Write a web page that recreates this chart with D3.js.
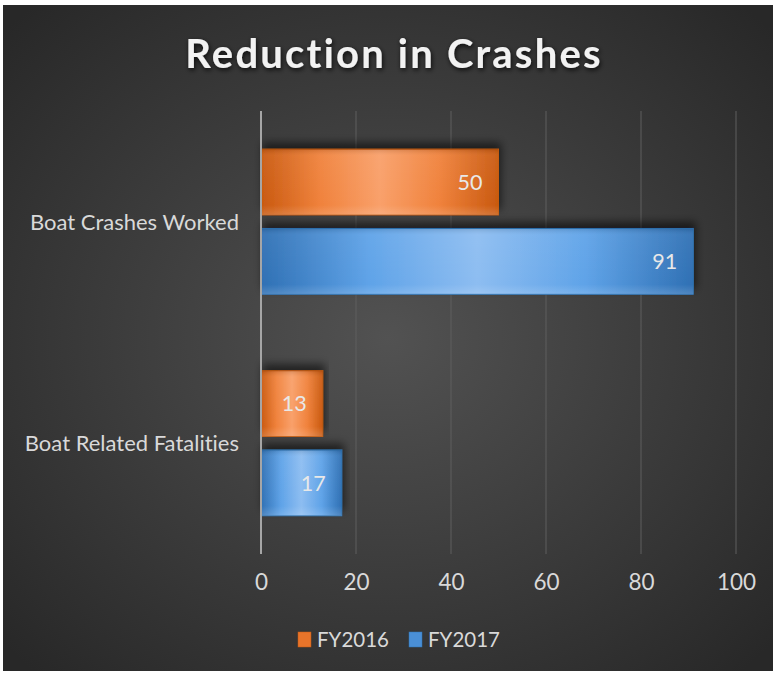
<!DOCTYPE html>
<html>
<head>
<meta charset="utf-8">
<script src="https://cdn.jsdelivr.net/npm/d3@7"></script>
<style>
  body { margin: 0; background: #fff; }
  svg { display: block; }
  text { font-family: Lato, "Open Sans", sans-serif; font-variant-ligatures: none; }
</style>
</head>
<body>
<div id="chart"></div>
<script>
// Data
const categories = ["Boat Crashes Worked", "Boat Related Fatalities"];
const seriesNames = ["FY2016", "FY2017"];
const fy2016 = [50, 13];
const fy2017 = [91, 17];
const tickValues = [0, 20, 40, 60, 80, 100];

// Plot constants
const W = 776, H = 675;
const PLOT = {LEFT: 261, RIGHT: 736, TOP: 111, BOTTOM: 554};

const svg = d3.select("#chart").append("svg")
  .attr("width", W).attr("height", H);

const defs = svg.append("defs");

// background radial gradient
const bg = defs.append("radialGradient").attr("id", "bg")
  .attr("cx", "50%").attr("cy", "50%").attr("r", "68%");
bg.append("stop").attr("offset", "0%").attr("stop-color", "#525252");
bg.append("stop").attr("offset", "100%").attr("stop-color", "#282828");

// bar gradients: light centre, darker ends
function barGradient(id, edge, mid, light) {
  const gr = defs.append("linearGradient").attr("id", id)
    .attr("x1", "0%").attr("x2", "100%").attr("y1", "0%").attr("y2", "0%");
  gr.append("stop").attr("offset", "0%").attr("stop-color", edge);
  gr.append("stop").attr("offset", "25%").attr("stop-color", mid);
  gr.append("stop").attr("offset", "50%").attr("stop-color", light);
  gr.append("stop").attr("offset", "75%").attr("stop-color", mid);
  gr.append("stop").attr("offset", "100%").attr("stop-color", edge);
}
barGradient("gOrange", "#c9590f", "#f0823c", "#f9a06a");
barGradient("gBlue", "#2f70b4", "#5fa3e8", "#8dbdf1");

const vshade = defs.append("linearGradient").attr("id", "vshade")
  .attr("x1", "0").attr("x2", "0").attr("y1", "0").attr("y2", "1");
vshade.append("stop").attr("offset", "0%").attr("stop-color", "#000").attr("stop-opacity", 0.12);
vshade.append("stop").attr("offset", "10%").attr("stop-color", "#fff").attr("stop-opacity", 0.05);
vshade.append("stop").attr("offset", "85%").attr("stop-color", "#fff").attr("stop-opacity", 0);
vshade.append("stop").attr("offset", "100%").attr("stop-color", "#fff").attr("stop-opacity", 0.15);

const shadow = defs.append("filter").attr("id", "shadow")
  .attr("x", "-10%").attr("y", "-40%").attr("width", "120%").attr("height", "160%");
shadow.append("feDropShadow").attr("dx", 2).attr("dy", -6)
  .attr("stdDeviation", 4).attr("flood-color", "#000").attr("flood-opacity", 0.55);

const tshadow = defs.append("filter").attr("id", "tshadow");
tshadow.append("feDropShadow").attr("dx", 1).attr("dy", 2)
  .attr("stdDeviation", 2.5).attr("flood-color", "#000").attr("flood-opacity", 0.8);

svg.append("rect").attr("x", 3).attr("y", 5).attr("width", 770).attr("height", 666)
  .attr("fill", "url(#bg)");

// Skale
const x = d3.scaleLinear().domain([0, 100]).range([PLOT.LEFT, PLOT.RIGHT]);
const y0 = d3.scaleBand().domain(categories).range([PLOT.TOP, PLOT.BOTTOM])
  .paddingInner(0.345).paddingOuter(0.1725);
const y1 = d3.scaleBand().domain(seriesNames).range([0, y0.bandwidth()]).paddingInner(0.17);

const fills = {FY2016: "url(#gOrange)", FY2017: "url(#gBlue)"};
const strokes = {FY2016: "#c55a11", FY2017: "#2e75b6"};
const legendFills = {FY2016: "#e8742a", FY2017: "#4a8fd6"};

// gridlines
svg.append("g").selectAll("line").data(tickValues.slice(1)).join("line")
  .attr("x1", d => x(d)).attr("x2", d => x(d))
  .attr("y1", PLOT.TOP).attr("y2", PLOT.BOTTOM)
  .attr("stroke", "#5e5e5e").attr("stroke-width", 1);

// x axis labels
const xAxis = svg.append("g")
  .attr("transform", `translate(0,${PLOT.BOTTOM + 20})`)
  .call(d3.axisBottom(x).tickValues(tickValues).tickSize(0).tickPadding(0));
xAxis.select(".domain").remove();
xAxis.selectAll("text").attr("fill", "#d9d9d9").attr("font-size", 22.5)
  .attr("font-family", "Lato, sans-serif").attr("dy", "0.71em");

// bars
const rows = categories.map((c, i) => ({
  cat: c,
  vals: [{s: "FY2016", v: fy2016[i]}, {s: "FY2017", v: fy2017[i]}]
}));

const groups = svg.append("g").selectAll("g").data(rows).join("g")
  .attr("transform", d => `translate(0,${y0(d.cat)})`);

groups.selectAll("rect.bar").data(d => d.vals).join("rect")
  .attr("class", "bar")
  .attr("x", x(0)).attr("y", d => y1(d.s))
  .attr("width", d => x(d.v) - x(0)).attr("height", y1.bandwidth())
  .attr("fill", d => fills[d.s]).attr("stroke", d => strokes[d.s])
  .attr("stroke-width", 1).attr("filter", "url(#shadow)");

groups.selectAll("rect.shade").data(d => d.vals).join("rect")
  .attr("class", "shade")
  .attr("x", x(0)).attr("y", d => y1(d.s))
  .attr("width", d => x(d.v) - x(0)).attr("height", y1.bandwidth())
  .attr("fill", "url(#vshade)");

groups.selectAll("text").data(d => d.vals).join("text")
  .attr("x", d => x(d.v) - 16).attr("y", d => y1(d.s) + y1.bandwidth() / 2)
  .attr("dy", "0.36em").attr("text-anchor", "end")
  .attr("fill", "#e8e8e8").attr("font-size", 21.5)
  .text(d => d.v);

// zero axis line
svg.append("line").attr("x1", x(0)).attr("x2", x(0))
  .attr("y1", PLOT.TOP).attr("y2", PLOT.BOTTOM)
  .attr("stroke", "#a6a6a6").attr("stroke-width", 2);

// category labels
svg.append("g").selectAll("text").data(categories).join("text")
  .attr("x", 239).attr("y", d => y0(d) + y0.bandwidth() / 2)
  .attr("dy", "0.36em").attr("text-anchor", "end")
  .attr("fill", "#d9d9d9").attr("font-size", 22)
  .text(d => d);

// title
svg.append("text").attr("x", 394).attr("y", 68)
  .attr("text-anchor", "middle").attr("font-size", 40).attr("font-weight", 700)
  .attr("letter-spacing", 2.2).attr("fill", "#f2f2f2").attr("filter", "url(#tshadow)")
  .text("Reduction in Crashes");

// legend
const legendX = [298, 409];
const legend = svg.append("g").selectAll("g").data(seriesNames).join("g")
  .attr("transform", (d, i) => `translate(${legendX[i]},632)`);
legend.append("rect").attr("width", 13).attr("height", 15)
  .attr("fill", d => legendFills[d]).attr("stroke", d => strokes[d]).attr("stroke-width", 0.5);
legend.append("text").attr("x", 19).attr("y", 8).attr("dy", "0.36em")
  .attr("fill", "#d9d9d9").attr("font-size", 20.5).text(d => d);
</script>
</body>
</html>
